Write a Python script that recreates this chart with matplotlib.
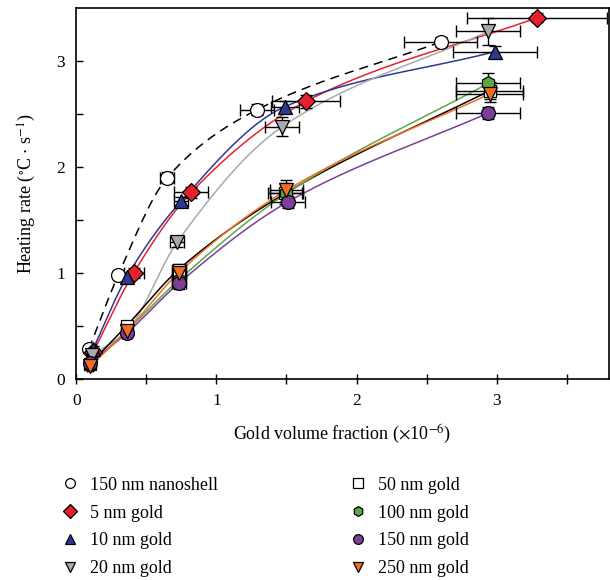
import numpy as np
import matplotlib
matplotlib.use("Agg")
import matplotlib.pyplot as plt
from matplotlib.lines import Line2D

plt.rcParams["font.family"] = ["Liberation Serif", "DejaVu Serif"]
plt.rcParams["mathtext.fontset"] = "stix"

# data (x: volume fraction x1e-6, y: heating rate)
labels = ["150 nm nanoshell", "5 nm gold", "10 nm gold", "20 nm gold",
          "50 nm gold", "100 nm gold", "150 nm gold", "250 nm gold"]

shell_x = [0.09, 0.30, 0.65, 1.29, 2.60]
shell_y = [0.28, 0.98, 1.90, 2.54, 3.18]
shell_xe = [0.02, 0.03, 0.05, 0.12, 0.26]
shell_ye = [0.03, 0.04, 0.05, 0.05, 0.05]

g5_x = [0.12, 0.41, 0.82, 1.64, 3.29]
g5_y = [0.25, 1.00, 1.76, 2.62, 3.41]
g5_xe = [0.02, 0.07, 0.12, 0.24, 0.50]
g5_ye = [0.03, 0.05, 0.05, 0.06, 0.04]

g10_x = [0.12, 0.36, 0.75, 1.49, 2.99]
g10_y = [0.28, 0.96, 1.68, 2.57, 3.09]
g10_xe = [0.02, 0.04, 0.05, 0.10, 0.30]
g10_ye = [0.03, 0.04, 0.04, 0.05, 0.05]

g20_x = [0.11, 0.36, 0.72, 1.47, 2.94]
g20_y = [0.22, 0.45, 1.29, 2.38, 3.28]
g20_xe = [0.02, 0.03, 0.05, 0.12, 0.23]
g20_ye = [0.03, 0.04, 0.05, 0.09, 0.13]

g50_x = [0.10, 0.36, 0.73, 1.49, 2.95]
g50_y = [0.14, 0.50, 1.03, 1.75, 2.72]
g50_xe = [0.02, 0.03, 0.05, 0.12, 0.24]
g50_ye = [0.03, 0.04, 0.05, 0.10, 0.08]

g100_x = [0.10, 0.36, 0.73, 1.50, 2.94]
g100_y = [0.13, 0.45, 0.93, 1.75, 2.79]
g100_xe = [0.02, 0.03, 0.05, 0.12, 0.23]
g100_ye = [0.03, 0.04, 0.05, 0.08, 0.10]

g150_x = [0.10, 0.36, 0.73, 1.51, 2.94]
g150_y = [0.15, 0.43, 0.90, 1.67, 2.51]
g150_xe = [0.02, 0.03, 0.05, 0.12, 0.23]
g150_ye = [0.03, 0.04, 0.05, 0.06, 0.06]

g250_x = [0.10, 0.36, 0.73, 1.50, 2.95]
g250_y = [0.12, 0.45, 1.00, 1.78, 2.69]
g250_xe = [0.02, 0.03, 0.05, 0.12, 0.24]
g250_ye = [0.03, 0.04, 0.05, 0.10, 0.08]

series = [
    (shell_x, shell_y, shell_xe, shell_ye, "o", "white", "black", "--", 10),
    (g5_x, g5_y, g5_xe, g5_ye, "D", "#e8202e", "#e8202e", "-", 9),
    (g10_x, g10_y, g10_xe, g10_ye, "^", "#2b3990", "#2b3990", "-", 10),
    (g20_x, g20_y, g20_xe, g20_ye, "v", "#a7a9ac", "#a7a9ac", "-", 10),
    (g50_x, g50_y, g50_xe, g50_ye, "s", "white", "black", "-", 9),
    (g100_x, g100_y, g100_xe, g100_ye, "h", "#5aa843", "#5aa843", "-", 10),
    (g150_x, g150_y, g150_xe, g150_ye, "o", "#7b3f98", "#7b3f98", "-", 10),
    (g250_x, g250_y, g250_xe, g250_ye, "v", "#f26d21", "#f26d21", "-", 10),
]


def pchip(x, y, xn):
    # monotone cubic interpolation (Fritsch-Carlson)
    x = np.asarray(x, float)
    y = np.asarray(y, float)
    h = np.diff(x)
    d = np.diff(y) / h
    m = np.zeros_like(y)
    m[0], m[-1] = d[0], d[-1]
    for i in range(1, len(x) - 1):
        if d[i - 1] * d[i] > 0:
            w1 = 2 * h[i] + h[i - 1]
            w2 = h[i] + 2 * h[i - 1]
            m[i] = (w1 + w2) / (w1 / d[i - 1] + w2 / d[i])
    idx = np.clip(np.searchsorted(x, xn) - 1, 0, len(x) - 2)
    t = (xn - x[idx]) / h[idx]
    h00 = 2 * t**3 - 3 * t**2 + 1
    h10 = t**3 - 2 * t**2 + t
    h01 = -2 * t**3 + 3 * t**2
    h11 = t**3 - t**2
    return (h00 * y[idx] + h10 * h[idx] * m[idx]
            + h01 * y[idx + 1] + h11 * h[idx] * m[idx + 1])


fig = plt.figure(figsize=(6.1, 5.8), dpi=100)
ax = fig.add_axes([0.125, 0.347, 0.873, 0.639])

for x, y, xe, ye, mk, fc, lc, ls, ms in series:
    xs = np.linspace(x[0], x[-1], 200)
    ax.plot(xs, pchip(x, y, xs), color=lc, ls=ls, lw=1.1, zorder=2,
            dashes=(6, 4) if ls == "--" else (None, None))

for x, y, xe, ye, mk, fc, lc, ls, ms in series:
    ax.errorbar(x, y, xerr=xe, yerr=ye, fmt="none", ecolor="black",
                elinewidth=1.0, capsize=4, capthick=1.0, zorder=3)
    ax.plot(x, y, ls="none", marker=mk, ms=ms, mfc=fc, mec="black",
            mew=0.9, zorder=4)

ax.set_xlim(0, 3.8)
ax.set_ylim(0, 3.5)
ax.set_xticks([0, 1, 2, 3])
ax.set_yticks([0, 1, 2, 3])
ax.set_xticks(np.arange(0.5, 3.8, 1.0), minor=True)
ax.set_yticks(np.arange(0.5, 3.5, 1.0), minor=True)
ax.tick_params(axis="x", which="both", direction="inout", length=7,
               width=1.0, labelsize=12.5, pad=7)
ax.tick_params(axis="y", which="both", direction="in", length=5,
               width=1.0, labelsize=12.5, pad=8)
for s in ax.spines.values():
    s.set_linewidth(1.2)

ax.set_xlabel(r"Gold volume fraction ($\times$10$^{-6}$)", fontsize=13,
              labelpad=10)
ax.set_ylabel(r"Heating rate ($^{\circ}$C $\cdot$ s$^{-1}$)", fontsize=13,
              labelpad=13)

handles = []
for (x, y, xe, ye, mk, fc, lc, ls, ms), lab in zip(series, labels):
    handles.append(Line2D([], [], ls="none", marker=mk, ms=7, mfc=fc,
                          mec="black", mew=0.9, label=lab))
leg_kw = dict(loc="upper left", frameon=False, fontsize=13,
              handletextpad=0.6, labelspacing=0.6, handlelength=1.0)
fig.legend(handles=handles[:4], bbox_to_anchor=(0.074, 0.206), **leg_kw)
fig.legend(handles=handles[4:], bbox_to_anchor=(0.546, 0.206), **leg_kw)

fig.savefig("out.png", dpi=100)
